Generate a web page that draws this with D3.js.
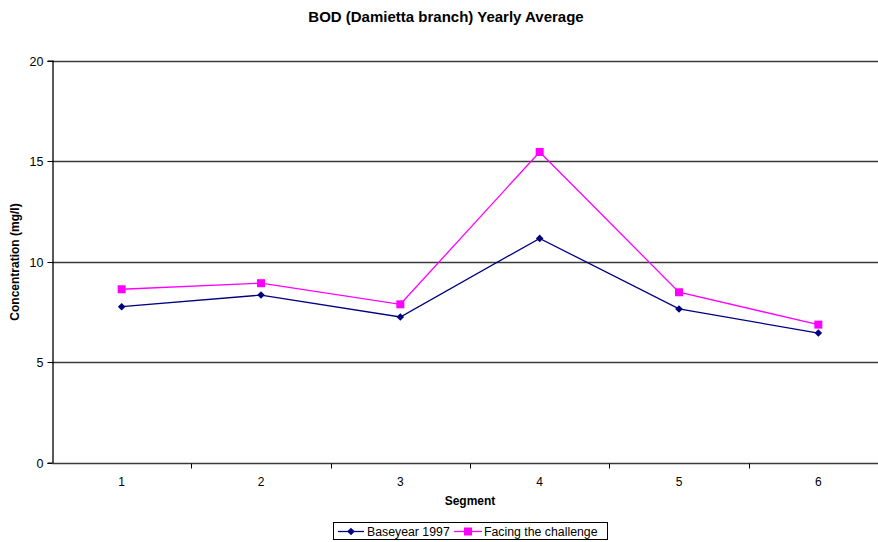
<!DOCTYPE html>
<html>
<head>
<meta charset="utf-8">
<script src="https://cdn.jsdelivr.net/npm/d3@7"></script>
<style>
  html, body { margin: 0; padding: 0; background: #fff; overflow: hidden; }
  svg { display: block; font-family: "Liberation Sans", Arial, sans-serif; }
</style>
</head>
<body>
<svg id="chart" width="878" height="542"></svg>
<script>
// BOD yearly averages along the Damietta branch, by segment
const segments = ["1", "2", "3", "4", "5", "6"];
const baseyear1997 = [7.76, 8.34, 7.25, 11.16, 7.65, 6.45];
const facingChallenge = [8.63, 8.93, 7.88, 15.46, 8.48, 6.87];
const yTicks = [0, 5, 10, 15, 20];
const seriesNames = ["Baseyear 1997", "Facing the challenge"];

const svg = d3.select("#chart");
const plotLeft = 52, plotRight = 888, plotTop = 60.7, plotBottom = 462.7;

const x = d3.scaleBand().domain(segments).range([plotLeft, plotRight]);
const y = d3.scaleLinear().domain([0, 20]).range([plotBottom, plotTop]);

// horizontal gridlines
svg.append("g").selectAll("line")
  .data(yTicks.filter(d => d > 0))
  .join("line")
  .attr("x1", plotLeft).attr("x2", plotRight)
  .attr("y1", d => Math.round(y(d)) + 0.5).attr("y2", d => Math.round(y(d)) + 0.5)
  .attr("stroke", "#3a3a3a").attr("stroke-width", 1.3);

// y axis
const yAxis = svg.append("g")
  .attr("transform", `translate(${plotLeft + 0.5},0)`)
  .call(d3.axisLeft(y).tickValues(yTicks).tickSize(5).tickPadding(4).tickFormat(d3.format("d")));
yAxis.select(".domain").attr("stroke", "#000").attr("stroke-width", 1.3);
yAxis.selectAll(".tick line").attr("stroke", "#000");
yAxis.selectAll(".tick text").attr("font-size", 12.5).attr("fill", "#000")
  .attr("font-family", "Liberation Sans, Arial, sans-serif");
yAxis.selectAll(".tick").attr("transform", d => `translate(0,${Math.round(y(d)) + 0.5})`);

// x axis with ticks between categories
const xBase = Math.round(y(0)) + 0.5;
svg.append("line")
  .attr("x1", plotLeft).attr("x2", plotRight).attr("y1", xBase).attr("y2", xBase)
  .attr("stroke", "#3a3a3a").attr("stroke-width", 1.3);
const bounds = segments.map(s => x(s)).concat([plotRight]);
svg.append("g").selectAll("line")
  .data(bounds.slice(1))
  .join("line")
  .attr("x1", d => Math.round(d) + 0.5).attr("x2", d => Math.round(d) + 0.5)
  .attr("y1", xBase).attr("y2", xBase + 5)
  .attr("stroke", "#000");
svg.append("g").selectAll("text")
  .data(segments)
  .join("text")
  .attr("x", d => x(d) + x.bandwidth() / 2)
  .attr("y", 486)
  .attr("text-anchor", "middle")
  .attr("font-size", 12)
  .text(d => d);

// axis titles and chart title
svg.append("text")
  .attr("x", 446).attr("y", 22)
  .attr("text-anchor", "middle").attr("font-size", 15).attr("font-weight", "bold")
  .text("BOD (Damietta branch) Yearly Average");
svg.append("text")
  .attr("x", 470).attr("y", 505)
  .attr("text-anchor", "middle").attr("font-size", 12).attr("font-weight", "bold")
  .text("Segment");
svg.append("text")
  .attr("transform", "translate(19,262) rotate(-90)")
  .attr("text-anchor", "middle").attr("font-size", 12).attr("font-weight", "bold")
  .text("Concentration (mg/l)");

const cx = d => x(d) + x.bandwidth() / 2;
const line = d3.line().x(d => cx(d.seg)).y(d => y(d.v));

const navy = "#000080", magenta = "#ff00ff";
const baseData = segments.map((s, i) => ({ seg: s, v: baseyear1997[i] }));
const faceData = segments.map((s, i) => ({ seg: s, v: facingChallenge[i] }));

// Facing the challenge series
svg.append("path").datum(faceData)
  .attr("d", line).attr("fill", "none").attr("stroke", magenta).attr("stroke-width", 1.3);
svg.append("g").selectAll("rect").data(faceData).join("rect")
  .attr("x", d => cx(d.seg) - 4).attr("y", d => y(d.v) - 4)
  .attr("width", 8).attr("height", 8).attr("fill", magenta);

// Baseyear 1997 series, with square-ish diamond markers
const diamondPath = "M0,-3.8L3.8,0L0,3.8L-3.8,0Z";
svg.append("path").datum(baseData)
  .attr("d", line).attr("fill", "none").attr("stroke", navy).attr("stroke-width", 1.3);
svg.append("g").selectAll("path").data(baseData).join("path")
  .attr("transform", d => `translate(${cx(d.seg)},${y(d.v)})`)
  .attr("d", diamondPath).attr("fill", navy);

// legend
const lg = svg.append("g");
lg.append("rect").attr("x", 333.5).attr("y", 522.5).attr("width", 274).attr("height", 17)
  .attr("fill", "#fff").attr("stroke", "#000").attr("stroke-width", 1);
const items = [
  { name: seriesNames[0], color: navy, x0: 338, x1: 364, tx: 367, mark: "diamond" },
  { name: seriesNames[1], color: magenta, x0: 454, x1: 482, tx: 484, mark: "square" }
];
items.forEach(it => {
  lg.append("line").attr("x1", it.x0).attr("x2", it.x1).attr("y1", 531.5).attr("y2", 531.5)
    .attr("stroke", it.color).attr("stroke-width", 1.3);
  const mx = (it.x0 + it.x1) / 2;
  if (it.mark === "diamond") {
    lg.append("path").attr("transform", `translate(${mx},531.5)`).attr("d", diamondPath).attr("fill", it.color);
  } else {
    lg.append("rect").attr("x", mx - 4).attr("y", 527.5).attr("width", 8).attr("height", 8).attr("fill", it.color);
  }
  lg.append("text").attr("x", it.tx).attr("y", 536).attr("font-size", 12.3).text(it.name);
});
</script>
</body>
</html>
